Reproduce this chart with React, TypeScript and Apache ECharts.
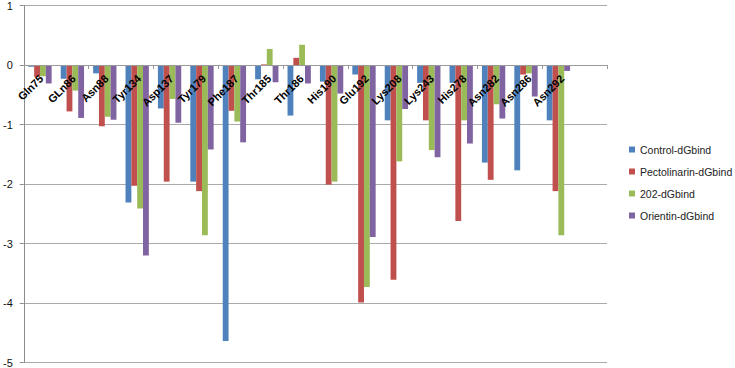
import React, { useEffect, useRef } from "react";
import * as echarts from "echarts";

const categories = [
  "Gln75", "GLn86", "Asn88", "Tyr134", "Asp137", "Tyr179", "Phe187", "Thr185", "Thr186",
  "His190", "Glu192", "Lys208", "Lys243", "His278", "Asn282", "Asn286", "Asn292", "",
];

const controlValues = [
  -0.03, -0.23, -0.14, -2.31, -0.73, -1.96, -4.64, -0.24, -0.85,
  -0.28, -0.16, -0.93, -0.3, -0.3, -1.64, -1.77, -0.93, null,
];
const pectolinarinValues = [
  -0.2, -0.78, -1.03, -2.03, -1.96, -2.12, -0.77, 0.01, 0.12,
  -2.01, -3.99, -3.61, -0.93, -2.62, -1.93, -0.16, -2.12, null,
];
const c202Values = [
  -0.19, -0.43, -0.87, -2.41, -0.57, -2.86, -0.95, 0.27, 0.34,
  -1.96, -3.73, -1.62, -1.43, -0.93, -0.66, -0.14, -2.86, null,
];
const orientinValues = [
  -0.31, -0.89, -0.92, -3.2, -0.97, -1.42, -1.3, -0.29, -0.31,
  -0.48, -2.89, -0.74, -1.55, -1.32, -0.9, -0.53, -0.1, null,
];

const seriesNames = ["Control-dGbind", "Pectolinarin-dGbind", "202-dGbind", "Orientin-dGbind"];
const seriesColors = ["#4F81BD", "#C0504D", "#9BBB59", "#8064A2"];
const yTicks = { min: -5, max: 1, interval: 1 };

export default function App() {
  const ref = useRef<HTMLDivElement>(null);
  useEffect(() => {
    if (!ref.current) return;
    const chart = echarts.init(ref.current, undefined, { renderer: "svg" });
    const allValues = [controlValues, pectolinarinValues, c202Values, orientinValues];
    const gridTop = 5;
    const gridBottom = 5;
    const plotH = 368 - gridTop - gridBottom;
    const zeroOffset = (plotH * (yTicks.max - 0)) / (yTicks.max - yTicks.min);
    const labelShift = 4;
    chart.setOption({
      animation: false,
      backgroundColor: "#ffffff",
      grid: [
        { left: 21, right: 128, top: gridTop, bottom: gridBottom, containLabel: false },
        {
          left: 21 + labelShift,
          right: 128 - labelShift,
          top: gridTop,
          height: zeroOffset,
          containLabel: false,
          z: 5,
        },
      ],
      legend: {
        orient: "vertical",
        left: 629,
        top: 144,
        padding: 0,
        itemWidth: 6,
        itemHeight: 6,
        itemGap: 11,
        icon: "rect",
        textStyle: { fontFamily: "Liberation Sans", fontSize: 10.5, color: "#222" },
        data: seriesNames,
      },
      xAxis: [
        {
          type: "category",
          gridIndex: 0,
          data: categories,
          axisLine: { onZero: true, lineStyle: { color: "#9a9a9a", width: 1 } },
          axisTick: { show: true, length: 4, lineStyle: { color: "#9a9a9a" } },
          axisLabel: { show: false },
          splitLine: { show: false },
          z: 8,
        },
        {
          type: "category",
          gridIndex: 1,
          position: "bottom",
          data: categories,
          axisLine: { show: false },
          axisTick: { show: false },
          axisLabel: {
            rotate: 45,
            interval: 0,
            margin: 12,
            fontFamily: "Liberation Sans",
            fontWeight: "bold",
            fontSize: 11,
            color: "#000",
          },
          splitLine: { show: false },
          z: 10,
        },
      ],
      yAxis: [
        {
          type: "value",
          gridIndex: 0,
          min: yTicks.min,
          max: yTicks.max,
          interval: yTicks.interval,
          axisLine: { show: true, lineStyle: { color: "#8c8c8c" } },
          axisTick: { show: true, length: 4, lineStyle: { color: "#8c8c8c" } },
          axisLabel: { margin: 11, fontFamily: "Liberation Sans", fontSize: 11, color: "#111" },
          splitLine: { show: true, lineStyle: { color: "#aaaaaa", width: 1 } },
        },
        {
          type: "value",
          gridIndex: 1,
          min: 0,
          max: 1,
          show: false,
          splitLine: { show: false },
        },
      ],
      series: seriesNames.map((name, i) => ({
        name,
        type: "bar",
        xAxisIndex: 0,
        yAxisIndex: 0,
        data: allValues[i],
        barGap: "0%",
        barCategoryGap: "28%",
        itemStyle: { color: seriesColors[i] },
      })),
    });
    return () => chart.dispose();
  }, []);
  return (
    <div
      ref={ref}
      style={{ position: "fixed", left: 0, top: 0, width: 735, height: 368, background: "#fff" }}
    />
  );
}
